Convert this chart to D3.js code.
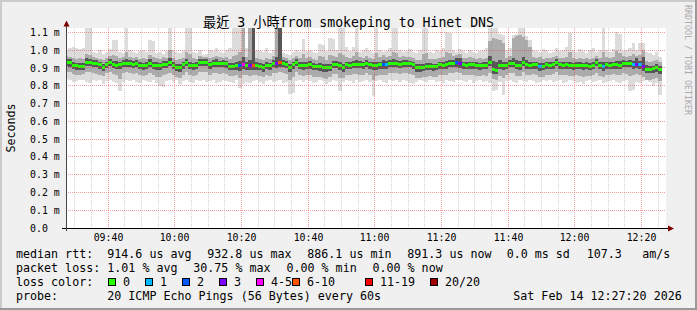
<!DOCTYPE html>
<html>
<head>
<meta charset="utf-8">
<script src="https://cdn.jsdelivr.net/npm/d3@7"></script>
<style>
  body { margin: 0; background: #f0f0f0; }
  svg text { font-family: "DejaVu Sans Mono", "Noto Sans CJK TC", monospace; white-space: pre; }
</style>
</head>
<body>
<svg id="chart" width="697" height="310"></svg>
<script>
// median rtt per minute step (us), starting 09:27
const med = [
  932, 930, 913, 912, 908, 910, 930, 931, 928, 926,
  917, 902, 917, 931, 917, 916, 918, 926, 925, 927,
  921, 926, 913, 912, 914, 926, 913, 914, 912, 921,
  920, 930, 913, 903, 901, 917, 931, 913, 912, 914,
  931, 932, 930, 917, 926, 927, 925, 926, 924, 911,
  910, 912, 912, 922, 913, 913, 916, 912, 911, 902,
  913, 912, 926, 925, 932, 927, 921, 901, 917, 931,
  913, 912, 916, 917, 907, 908, 906, 902, 901, 903,
  921, 920, 913, 902, 917, 913, 921, 921, 920, 917,
  926, 917, 913, 912, 917, 918, 917, 926, 927, 926,
  921, 926, 926, 925, 917, 902, 901, 903, 907, 908,
  906, 907, 917, 916, 917, 926, 927, 931, 926, 917,
  916, 918, 917, 913, 912, 914, 913, 931, 890, 886,
  913, 912, 914, 926, 925, 913, 912, 931, 917, 916,
  918, 917, 907, 908, 917, 916, 918, 931, 917, 916,
  918, 913, 912, 914, 913, 912, 913, 911, 913, 931,
  913, 907, 917, 916, 918, 917, 916, 926, 925, 927,
  917, 921, 917, 907, 894, 893, 895, 902, 891
];

// slowest ping of each step (us)
const pingMax = [
  1000, 1010, 1020, 1015, 1005, 1010, 1130, 1130, 990, 985,
  1000, 980, 990, 1005, 1060, 1055, 990, 985, 1130, 1000,
  990, 985, 995, 1000, 990, 1060, 1050, 985, 990, 980,
  995, 1130, 1000, 990, 985, 995, 1130, 1130, 990, 985,
  1000, 975, 980, 1000, 995, 1010, 990, 985, 1000, 1015,
  1130, 1130, 1130, 1130, 1010, 1130, 1130, 1000, 995, 990,
  1010, 985, 1000, 1130, 1130, 985, 980, 975, 990, 1000,
  990, 1065, 995, 1000, 990, 985, 1035, 1030, 995, 1070,
  1065, 1000, 1130, 1130, 1020, 995, 1020, 1130, 990, 1000,
  1010, 995, 985, 1130, 1000, 990, 995, 1010, 1130, 1130,
  1000, 990, 995, 1005, 990, 985, 1000, 1130, 1130, 990,
  985, 1000, 995, 1010, 1100, 1095, 1000, 990, 1005, 995,
  985, 1000, 990, 985, 995, 1000, 1010, 1130, 1130, 1130,
  1090, 1085, 1000, 1010, 1085, 1090, 1130, 1130, 1080, 1060,
  1000, 995, 990, 1005, 1000, 985, 990, 1010, 995, 1000,
  1020, 1095, 1000, 990, 1005, 995, 985, 1000, 1010, 990,
  1000, 1130, 1000, 990, 1005, 1100, 1090, 995, 1000, 1010,
  1040, 1000, 1040, 1040, 990, 985, 975, 990, 960
];

// fastest ping of each step (us)
const pingMin = [
  840, 830, 820, 825, 835, 830, 820, 815, 830, 825,
  835, 810, 825, 830, 820, 815, 770, 820, 830, 825,
  835, 820, 815, 830, 825, 820, 830, 815, 800, 795,
  825, 830, 820, 835, 810, 825, 830, 820, 815, 830,
  825, 835, 820, 825, 830, 815, 820, 830, 825, 820,
  815, 830, 790, 810, 820, 815, 825, 830, 820, 810,
  825, 830, 820, 825, 830, 815, 820, 755, 760, 825,
  830, 820, 835, 825, 815, 820, 830, 825, 810, 820,
  830, 825, 770, 820, 830, 825, 815, 830, 820, 825,
  835, 820, 740, 825, 830, 820, 815, 830, 825, 835,
  820, 830, 825, 815, 810, 820, 830, 825, 820, 835,
  830, 820, 825, 815, 830, 825, 820, 830, 835, 825,
  820, 830, 815, 825, 830, 820, 825, 815, 770, 775,
  820, 750, 825, 830, 820, 815, 830, 825, 820, 830,
  825, 815, 820, 830, 825, 835, 820, 825, 830, 815,
  820, 830, 825, 815, 820, 810, 825, 830, 820, 825,
  830, 815, 820, 825, 830, 820, 815, 825, 830, 770,
  775, 820, 815, 825, 830, 820, 800, 815, 750
];

// 3rd slowest / 3rd fastest ping (us)
const midHi = [
  965, 960, 955, 950, 955, 950, 980, 975, 960, 955,
  950, 945, 955, 965, 975, 970, 955, 960, 990, 960,
  955, 960, 950, 955, 950, 975, 960, 955, 950, 960,
  955, 1000, 955, 945, 950, 955, 990, 980, 955, 950,
  965, 960, 960, 955, 960, 965, 960, 955, 960, 950,
  970, 975, 990, 1130, 960, 1130, 1000, 955, 950, 945,
  955, 950, 965, 1130, 1010, 960, 955, 945, 955, 965,
  955, 980, 955, 960, 950, 945, 965, 960, 945, 975,
  970, 960, 985, 975, 960, 955, 965, 990, 960, 955,
  965, 955, 950, 985, 960, 975, 960, 965, 990, 985,
  960, 965, 960, 960, 955, 945, 945, 980, 985, 950,
  950, 950, 955, 960, 990, 985, 965, 975, 980, 955,
  955, 960, 955, 950, 955, 950, 955, 1050, 1070, 1065,
  1060, 1040, 955, 970, 1070, 1080, 1085, 1075, 1060, 1020,
  960, 955, 960, 950, 955, 955, 960, 970, 955, 955,
  960, 990, 955, 950, 955, 950, 955, 950, 955, 970,
  955, 990, 960, 955, 960, 995, 985, 965, 960, 965,
  980, 970, 975, 1000, 940, 935, 940, 945, 935
];
const midLo = [
  880, 875, 865, 860, 860, 865, 875, 880, 870, 865,
  860, 855, 870, 880, 865, 860, 840, 870, 875, 870,
  865, 870, 860, 855, 860, 870, 860, 850, 850, 860,
  865, 870, 860, 850, 845, 860, 875, 860, 855, 860,
  875, 880, 875, 860, 870, 870, 865, 870, 865, 855,
  855, 860, 845, 860, 860, 855, 860, 860, 855, 850,
  860, 855, 870, 870, 875, 870, 865, 830, 850, 875,
  860, 855, 860, 860, 850, 850, 850, 845, 840, 850,
  865, 865, 845, 845, 860, 860, 865, 865, 860, 860,
  870, 860, 835, 855, 860, 860, 860, 870, 870, 870,
  865, 870, 870, 865, 860, 845, 845, 850, 850, 855,
  850, 850, 860, 860, 860, 870, 870, 875, 870, 860,
  860, 860, 860, 855, 855, 860, 855, 870, 840, 835,
  855, 845, 860, 870, 870, 855, 855, 875, 860, 860,
  865, 860, 850, 850, 860, 860, 865, 875, 860, 860,
  860, 855, 855, 860, 855, 850, 855, 855, 860, 870,
  855, 850, 860, 860, 865, 860, 860, 870, 865, 855,
  860, 865, 860, 850, 835, 835, 840, 845, 825
];

// 7th slowest / 7th fastest ping (us)
const darkHi = [
  950, 948, 935, 930, 928, 930, 955, 952, 945, 945,
  935, 925, 935, 950, 940, 938, 935, 945, 950, 945,
  940, 945, 932, 930, 935, 948, 935, 932, 930, 940,
  940, 955, 935, 922, 920, 935, 952, 935, 930, 932,
  950, 952, 950, 935, 945, 948, 942, 945, 942, 930,
  930, 935, 940, 960, 935, 945, 1130, 932, 930, 922,
  932, 930, 945, 960, 1130, 945, 940, 922, 935, 950,
  932, 935, 935, 938, 928, 925, 928, 922, 920, 925,
  940, 940, 935, 925, 935, 932, 940, 945, 940, 935,
  945, 935, 932, 935, 935, 945, 940, 945, 948, 945,
  940, 945, 945, 942, 935, 922, 920, 925, 928, 926,
  925, 925, 935, 935, 940, 945, 945, 955, 955, 935,
  935, 936, 935, 932, 930, 932, 932, 965, 940, 935,
  945, 935, 932, 945, 955, 945, 940, 960, 945, 935,
  936, 935, 930, 928, 935, 935, 936, 950, 935, 935,
  936, 935, 930, 932, 932, 930, 932, 930, 932, 950,
  932, 935, 935, 935, 936, 940, 938, 945, 942, 945,
  940, 955, 940, 960, 915, 912, 914, 920, 910
];
const darkLo = [
  912, 908, 892, 890, 888, 890, 910, 912, 906, 905,
  896, 882, 898, 912, 898, 895, 895, 905, 905, 906,
  900, 905, 892, 890, 893, 906, 892, 890, 888, 900,
  900, 910, 892, 882, 878, 895, 912, 892, 890, 893,
  912, 912, 910, 896, 905, 906, 904, 906, 902, 890,
  888, 890, 885, 895, 890, 888, 890, 890, 890, 880,
  892, 890, 905, 900, 905, 905, 900, 878, 895, 912,
  892, 890, 895, 896, 886, 886, 884, 880, 878, 882,
  900, 900, 890, 880, 896, 892, 900, 900, 898, 896,
  905, 896, 888, 890, 896, 895, 895, 905, 906, 905,
  900, 905, 905, 904, 896, 880, 878, 882, 886, 887,
  884, 886, 896, 895, 896, 905, 906, 908, 902, 896,
  895, 897, 896, 892, 890, 893, 892, 910, 868, 864,
  892, 890, 893, 905, 904, 892, 890, 910, 896, 895,
  897, 896, 885, 886, 896, 895, 897, 910, 896, 895,
  897, 892, 890, 893, 892, 890, 892, 890, 892, 910,
  892, 884, 896, 895, 897, 896, 895, 905, 904, 906,
  895, 898, 895, 884, 872, 870, 872, 880, 868
];

// steps with packet loss (index) and lost pings out of 20
const lossStep  = [52, 53, 55, 56, 63, 64, 95, 96, 117, 118, 142, 161, 170, 171, 172, 173];
const lossCount = [ 2,  4,  3,  6,  3,  6,  2,  1,   2,   3,   1,   1,   1,   3,   1,   3];

const lossLabels = ["0", "1", "2", "3", "4-5", "6-10", "11-19", "20/20"];
const lossUpper  = [0, 1, 2, 3, 5, 10, 19, 20];
const lossColors = ["#26ff00", "#00b8ff", "#0059ff", "#7e00ff", "#ff00ff", "#ff5500", "#ff0000", "#a10000"];

const yTicks = [0, 0.1, 0.2, 0.3, 0.4, 0.5, 0.6, 0.7, 0.8, 0.9, 1.0, 1.1];

const rttStats  = ["914.6 us avg", "932.8 us max", "886.1 us min", "891.3 us now", "0.0 ms sd", "107.3", "am/s"];
const lossStats = ["1.01 % avg", "30.75 % max", "0.00 % min", "0.00 % now"];
const probeText = "20 ICMP Echo Pings (56 Bytes) every 60s";
const stampText = "Sat Feb 14 12:27:20 2026";
const title = "最近 3 小時from smokeping to Hinet DNS";

// layout
var W = 697, H = 310;
var pLeft = 66, pRight = 666, pTop = 28, pBottom = 228;

var svg = d3.select("#chart");

// frame
svg.append("rect").attr("width", W).attr("height", H).attr("fill", "#f0f0f0");
svg.append("rect").attr("x", 0).attr("y", 0).attr("width", W).attr("height", 2).attr("fill", "#cbcbcb");
svg.append("rect").attr("x", 0).attr("y", 0).attr("width", 2).attr("height", H).attr("fill", "#cbcbcb");
svg.append("rect").attr("x", 0).attr("y", H - 2).attr("width", W).attr("height", 2).attr("fill", "#999999");
svg.append("rect").attr("x", W - 2).attr("y", 0).attr("width", 2).attr("height", H).attr("fill", "#999999");

svg.append("rect")
  .attr("x", pLeft).attr("y", pTop)
  .attr("width", pRight - pLeft).attr("height", pBottom - pTop)
  .attr("fill", "#ffffff");

var t0 = new Date(2026, 1, 14, 9, 27, 20);
var t1 = new Date(2026, 1, 14, 12, 27, 20);
var x = d3.scaleTime().domain([t0, t1]).range([pLeft, pRight]);
var y = d3.scaleLinear().domain([0, 1.125]).range([pBottom, pTop]);

function stepStart(i) {
  return new Date(2026, 1, 14, 9, 27 + i, 0);
}

svg.append("clipPath").attr("id", "plotclip")
  .append("rect").attr("x", pLeft).attr("y", pTop)
  .attr("width", pRight - pLeft).attr("height", pBottom - pTop);

var plot = svg.append("g").attr("clip-path", "url(#plotclip)")
  .attr("shape-rendering", "crispEdges");

// smoke: outer band lightest, inner band darkest
var bands = [
  { hi: pingMax, lo: pingMin, color: "#dcdcdc" },
  { hi: midHi, lo: midLo, color: "#ababab" },
  { hi: darkHi, lo: darkLo, color: "#575757" }
];

bands.forEach(function (b) {
  plot.append("g").selectAll("rect")
    .data(med)
    .join("rect")
    .attr("x", (d, i) => x(stepStart(i)))
    .attr("width", (d, i) => x(stepStart(i + 1)) - x(stepStart(i)))
    .attr("y", (d, i) => y(b.hi[i] / 1000))
    .attr("height", (d, i) => y(b.lo[i] / 1000) - y(b.hi[i] / 1000))
    .attr("fill", b.color);
});

// median, coloured by loss
function lossColor(n) {
  for (var k = 0; k < lossUpper.length; k++) {
    if (n <= lossUpper[k]) return lossColors[k];
  }
  return lossColors[lossColors.length - 1];
}

plot.append("g").selectAll("rect")
  .data(med)
  .join("rect")
  .attr("x", (d, i) => x(stepStart(i)))
  .attr("width", (d, i) => x(stepStart(i + 1)) - x(stepStart(i)))
  .attr("y", d => y(d / 1000) - 1.5)
  .attr("height", 3)
  .attr("fill", (d, i) => {
    var k = lossStep.indexOf(i);
    return lossColor(k < 0 ? 0 : lossCount[k]);
  });

// grid on top of the data
var grid = svg.append("g").attr("shape-rendering", "crispEdges");
var minor = d3.timeMinute.every(5).range(t0, t1);
minor.forEach(function (t) {
  var isMajor = t.getMinutes() % 20 === 0;
  var px = Math.floor(x(t)) + 0.5;
  grid.append("line")
    .attr("x1", px).attr("x2", px)
    .attr("y1", pTop).attr("y2", pBottom)
    .attr("stroke", isMajor ? "rgba(232,60,60,0.5)" : "rgba(128,128,128,0.35)")
    .attr("stroke-dasharray", "1,1");
});
yTicks.forEach(function (v) {
  if (v === 0) return;
  var py = Math.floor(y(v)) + 0.5;
  grid.append("line")
    .attr("x1", pLeft).attr("x2", pRight)
    .attr("y1", py).attr("y2", py)
    .attr("stroke", "rgba(232,60,60,0.5)")
    .attr("stroke-dasharray", "1,1");
});

// axes
svg.append("line")
  .attr("x1", 62).attr("x2", 668).attr("y1", pBottom + 0.5).attr("y2", pBottom + 0.5)
  .attr("stroke", "#000").attr("shape-rendering", "crispEdges");
svg.append("line")
  .attr("x1", pLeft + 0.5).attr("x2", pLeft + 0.5).attr("y1", 26).attr("y2", pBottom + 3)
  .attr("stroke", "#444").attr("shape-rendering", "crispEdges");
svg.append("path")
  .attr("d", "M668,225.5L668,231.5L674,228.5Z").attr("fill", "#7f0000");
svg.append("path")
  .attr("d", "M63.5,26.5L69.5,26.5L66.5,20.5Z").attr("fill", "#7f0000");

// y tick labels
svg.append("g").selectAll("text")
  .data(yTicks)
  .join("text")
  .attr("x", 30)
  .attr("y", d => y(d) + 3.5)
  .attr("font-size", "9.9px")
  .attr("fill", "#000")
  .text(d => d === 0 ? "0.0" : d.toFixed(1) + " m");

// x tick labels
var fmt = d3.timeFormat("%H:%M");
svg.append("g").selectAll("text")
  .data(minor.filter(t => t.getMinutes() % 20 === 0))
  .join("text")
  .attr("x", d => Math.floor(x(d)) + 0.5)
  .attr("y", 240.5)
  .attr("text-anchor", "middle")
  .attr("font-size", "9.9px")
  .text(d => fmt(d));

// title and unit label
svg.append("text")
  .attr("x", W / 2).attr("y", 26.5)
  .attr("text-anchor", "middle")
  .attr("font-size", "13.2px")
  .text(title);

svg.append("text")
  .attr("transform", "translate(14.5," + (pTop + pBottom) / 2 + ") rotate(-90)")
  .attr("text-anchor", "middle")
  .attr("font-size", "11.66px")
  .text("Seconds");

svg.append("text")
  .attr("transform", "translate(684.5,5) rotate(90)")
  .attr("font-size", "8.3px")
  .attr("fill", "#aaaaaa")
  .text("RRDTOOL / TOBI OETIKER");

// legend
var legend = svg.append("g").attr("font-size", "11.66px");
function put(px, py, s) {
  legend.append("text").attr("x", px).attr("y", py).text(s);
}
put(16, 258, "median rtt:");
[107.3, 207.3, 307.3, 407.3, 506.7, 586.7, 642.3].forEach((px, k) => put(px, 258, rttStats[k]));
put(16, 272, "packet loss:");
[107.3, 193.3, 286.5, 372.5].forEach((px, k) => put(px, 272, lossStats[k]));
put(16, 286, "loss color:");
var boxX = [108, 145, 182, 219, 256, 292, 365, 430];
lossLabels.forEach(function (lab, k) {
  legend.append("rect")
    .attr("x", boxX[k] + 0.5).attr("y", 278.5)
    .attr("width", 7).attr("height", 7)
    .attr("fill", lossColors[k]).attr("stroke", "#000")
    .attr("shape-rendering", "crispEdges");
  put(boxX[k] + 15, 286, lab);
});
put(16, 300, "probe:");
put(107.3, 300, probeText);
put(513.3, 300, stampText);
</script>
</body>
</html>
